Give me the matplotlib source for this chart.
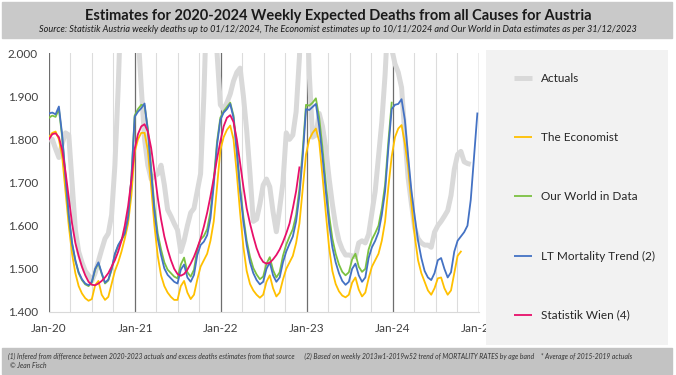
import numpy as np
import pandas as pd
import matplotlib
matplotlib.use("Agg")
import matplotlib.pyplot as plt
from matplotlib.patches import Rectangle
from matplotlib.ticker import FuncFormatter

plt.rcParams['font.family'] = ['Lato', 'DejaVu Sans']

# Weekly expected deaths, read every 2nd week starting 1 Jan 2020 (one row per year)
actuals = (
    [1798, 1800, 1778, 1758, 1790, 1815, 1810, 1700, 1590, 1540, 1515, 1495, 1485,
     1472, 1490, 1518, 1545, 1570, 1582, 1625, 1740, 1920, 2150, 2400, 2600, 2650] +
    [2500, 2050, 1920, 1800, 1740, 1708, 1715, 1720, 1740, 1695, 1637, 1622, 1605,
     1590, 1540, 1565, 1600, 1630, 1640, 1680, 1720, 1900, 2150, 2300, 2150, 2000] +
    [1880, 1870, 1885, 1905, 1935, 1955, 1965, 1900, 1820, 1720, 1610, 1615, 1650,
     1694, 1708, 1690, 1632, 1586, 1640, 1700, 1815, 1800, 1810, 1864, 1990, 2200] +
    [2200, 1950, 1805, 1810, 1860, 1830, 1780, 1710, 1650, 1600, 1565, 1545, 1532,
     1532, 1530, 1528, 1560, 1565, 1560, 1580, 1630, 1680, 1760, 1840, 1950, 2100] +
    [2010, 1975, 1955, 1920, 1810, 1710, 1650, 1594, 1570, 1560, 1555, 1555, 1550,
     1585, 1600, 1610, 1622, 1635, 1670, 1730, 1765, 1772, 1748, 1744, 1742]
)

economist = (
    [1805, 1815, 1818, 1800, 1760, 1680, 1600, 1535, 1490, 1460, 1443, 1432, 1426,
     1430, 1462, 1472, 1440, 1428, 1435, 1465, 1495, 1515, 1540, 1570, 1605, 1670] +
    [1770, 1800, 1815, 1815, 1775, 1690, 1600, 1530, 1485, 1460, 1445, 1435, 1428,
     1428, 1460, 1472, 1445, 1430, 1440, 1475, 1505, 1520, 1535, 1565, 1610, 1690] +
    [1775, 1805, 1822, 1832, 1800, 1720, 1630, 1550, 1495, 1465, 1450, 1440, 1433,
     1440, 1470, 1485, 1455, 1436, 1445, 1475, 1500, 1515, 1530, 1560, 1605, 1685] +
    [1765, 1800, 1815, 1825, 1795, 1715, 1630, 1550, 1495, 1465, 1448, 1438, 1434,
     1440, 1468, 1480, 1452, 1436, 1445, 1478, 1505, 1520, 1535, 1565, 1610, 1690] +
    [1760, 1805, 1825, 1833, 1790, 1735, 1650, 1575, 1520, 1490, 1470, 1450, 1440,
     1455, 1478, 1480, 1455, 1440, 1450, 1490, 1530, 1540]
)

owid = (
    [1850, 1855, 1852, 1870, 1805, 1712, 1622, 1558, 1518, 1490, 1474, 1464, 1460,
     1468, 1498, 1513, 1488, 1466, 1473, 1498, 1533, 1553, 1566, 1581, 1618, 1708] +
    [1855, 1870, 1880, 1878, 1825, 1735, 1645, 1582, 1545, 1515, 1498, 1490, 1482,
     1478, 1510, 1526, 1492, 1482, 1498, 1545, 1568, 1576, 1592, 1632, 1706, 1795] +
    [1850, 1865, 1875, 1885, 1855, 1778, 1690, 1620, 1565, 1528, 1502, 1487, 1476,
     1482, 1512, 1527, 1497, 1480, 1492, 1530, 1556, 1575, 1592, 1625, 1685, 1775] +
    [1880, 1878, 1885, 1895, 1850, 1780, 1700, 1625, 1570, 1535, 1510, 1493, 1485,
     1492, 1522, 1535, 1505, 1493, 1500, 1545, 1568, 1583, 1600, 1640, 1695, 1795] +
    [1885]
)

lt_trend = (
    [1860, 1862, 1858, 1876, 1810, 1715, 1625, 1560, 1520, 1492, 1476, 1466, 1462,
     1470, 1500, 1515, 1490, 1468, 1475, 1500, 1535, 1555, 1568, 1583, 1620, 1710] +
    [1852, 1864, 1872, 1883, 1818, 1725, 1632, 1570, 1532, 1501, 1486, 1478, 1470,
     1466, 1498, 1510, 1480, 1470, 1486, 1532, 1555, 1563, 1578, 1617, 1694, 1787] +
    [1845, 1862, 1870, 1882, 1850, 1770, 1680, 1610, 1555, 1515, 1490, 1474, 1464,
     1470, 1500, 1515, 1485, 1470, 1480, 1515, 1540, 1558, 1575, 1610, 1670, 1760] +
    [1870, 1868, 1875, 1882, 1830, 1760, 1680, 1605, 1550, 1515, 1490, 1472, 1463,
     1470, 1500, 1512, 1485, 1470, 1480, 1525, 1550, 1565, 1585, 1625, 1680, 1780] +
    [1870, 1880, 1882, 1893, 1845, 1760, 1680, 1620, 1565, 1525, 1495, 1480, 1474,
     1490, 1520, 1525, 1500, 1480, 1492, 1540, 1565, 1575, 1585, 1600, 1660, 1760] +
    [1860]
)

statistik_wien = (
    [1800, 1812, 1814, 1805, 1775, 1725, 1665, 1605, 1560, 1530, 1505, 1485, 1470,
     1463, 1462, 1466, 1472, 1480, 1490, 1505, 1520, 1540, 1565, 1600, 1645, 1705] +
    [1778, 1812, 1830, 1835, 1818, 1780, 1725, 1665, 1615, 1575, 1545, 1520, 1500,
     1488, 1484, 1488, 1498, 1512, 1528, 1548, 1570, 1598, 1630, 1668, 1710, 1755] +
    [1795, 1830, 1850, 1856, 1840, 1800, 1745, 1690, 1640, 1605, 1575, 1548, 1528,
     1516, 1512, 1514, 1522, 1532, 1545, 1562, 1582, 1605, 1640, 1680, 1735]
)

series_names = ["Actuals", "The Economist", "Our World in Data",
                "LT Mortality Trend (2)", "Statistik Wien (4)"]
year_labels = ["Jan-20", "Jan-21", "Jan-22", "Jan-23", "Jan-24", "Jan-25"]

dates = pd.date_range("2020-01-01", periods=131, freq="14D")

fig = plt.figure(figsize=(6.76, 3.75), dpi=100)

# header and footer bands
fig.patches.append(Rectangle((2 / 676, 1 - 38 / 375), 670 / 676, 36 / 375,
                             transform=fig.transFigure, color="#c9c9c9", zorder=0))
fig.patches.append(Rectangle((2 / 676, 1 / 375), 670 / 676, 26 / 375,
                             transform=fig.transFigure, color="#c3c3c3", zorder=0))

fig.text(0.5, 1 - 16 / 375, "Estimates for 2020-2024 Weekly Expected Deaths from all Causes for Austria",
         ha="center", va="center", fontsize=10.5, fontweight="bold", color="#1a1a1a")
fig.text(0.5, 1 - 30 / 375,
         "Source: Statistik Austria weekly deaths up to 01/12/2024, The Economist estimates up to 10/11/2024 "
         "and Our World in Data estimates as per 31/12/2023",
         ha="center", va="center", fontsize=6.6, style="italic", color="#1a1a1a")
fig.text(8 / 676, 1 - 356 / 375,
         "(1) Infered from difference between 2020-2023 actuals and excess deaths estimates from that source"
         "      (2) Based on weekly 2013w1-2019w52 trend of MORTALITY RATES by age band"
         "    * Average of 2015-2019 actuals",
         ha="left", va="center", fontsize=4.9, style="italic", color="#333333")
fig.text(10 / 676, 1 - 366 / 375, "© Jean Fisch", ha="left", va="center",
         fontsize=4.9, style="italic", color="#333333")

ax = fig.add_axes([49 / 676, 1 - 312 / 375, 430 / 676, 259 / 375])

start = pd.Timestamp("2020-01-01")
end = pd.Timestamp("2025-01-01")
years = pd.date_range(start, end, freq="YS")
quarters = [d for d in pd.date_range(start, end, freq="QS") if d.month != 1]
for q in quarters:
    ax.axvline(q, color="#dcdcdc", lw=0.8, zorder=0)
for y in years:
    ax.axvline(y, color="#6e6e6e", lw=0.9, zorder=0)

ax.plot(dates[:len(actuals)], actuals, color="#d9d9d9", lw=3.6, solid_capstyle="butt", zorder=1)
ax.plot(dates[:len(economist)], economist, color="#ffc000", lw=1.3, zorder=2)
ax.plot(dates[:len(owid)], owid, color="#7cc142", lw=1.3, zorder=3)
ax.plot(dates[:len(lt_trend)], lt_trend, color="#4472c4", lw=1.3, zorder=4)
ax.plot(dates[:len(statistik_wien)], statistik_wien, color="#e8106a", lw=1.3, zorder=5)

ax.set_xlim(start, end)
ax.set_ylim(1400, 2000)
ax.set_yticks(np.arange(1400, 2001, 100))
ax.yaxis.set_major_formatter(FuncFormatter(lambda v, p: f"{int(v):,}".replace(",", ".")))
ax.set_xticks(years)
ax.set_xticklabels(year_labels)
ax.tick_params(axis="both", length=0, labelsize=8.5, colors="#404040")
ax.tick_params(axis="x", pad=8)
ax.tick_params(axis="y", pad=8)
for side in ["left", "right", "top"]:
    ax.spines[side].set_visible(False)
ax.spines["bottom"].set_color("#d9d9d9")

# legend panel, drawn over the last tick label
lax = fig.add_axes([486 / 676, 1 - 345 / 375, 182 / 676, 295 / 375])
lax.set_facecolor("#f2f2f2")
lax.set_xticks([])
lax.set_yticks([])
for s in lax.spines.values():
    s.set_visible(False)
lax.set_xlim(0, 182)
lax.set_ylim(345, 50)
legend_styles = [("#d9d9d9", 3.6), ("#ffc000", 1.3), ("#7cc142", 1.3),
                 ("#4472c4", 1.3), ("#e8106a", 1.3)]
legend_y = [78, 137, 196, 256, 315]
for name, (c, lw), yy in zip(series_names, legend_styles, legend_y):
    lax.plot([28, 46], [yy, yy], color=c, lw=lw, solid_capstyle="butt")
    lax.text(55, yy, name, va="center", ha="left", fontsize=8.5, color="#262626")

fig.savefig("out.png", dpi=100)
